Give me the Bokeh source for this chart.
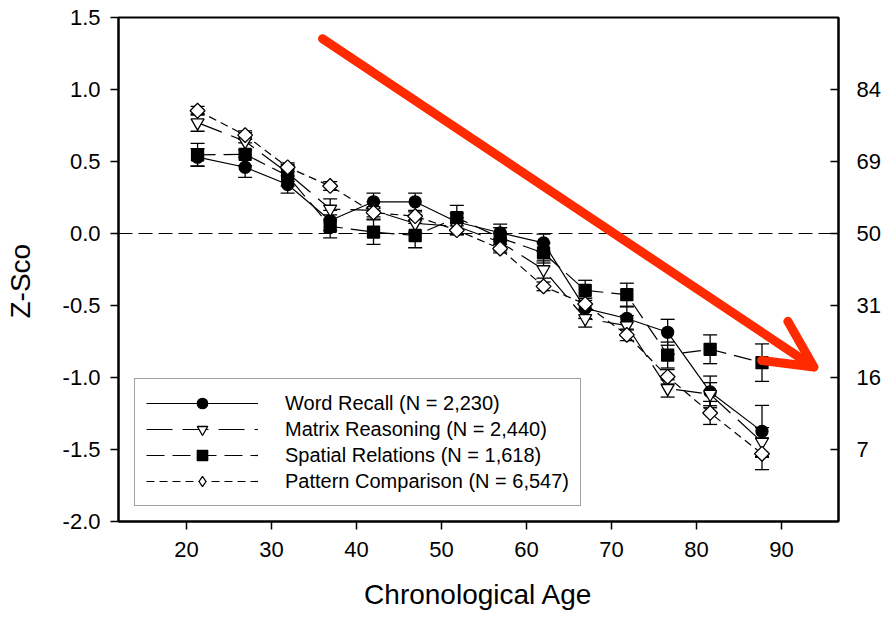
import numpy as np
from bokeh.plotting import figure
from bokeh.models import (Range1d, LinearAxis, FixedTicker, ColumnDataSource, Whisker,
                          TeeHead, Span, Arrow, OpenHead, LegendItem, Legend)
from bokeh.embed import file_html
from bokeh.resources import INLINE

# ---------------- data ----------------
ages = [21.3, 26.9, 31.9, 36.9, 42.0, 46.9, 51.8, 56.9, 62.0, 66.9, 71.8, 76.6, 81.6, 87.7]

word_recall = [0.53, 0.46, 0.34, 0.09, 0.22, 0.22, 0.08, 0.005, -0.065, -0.52, -0.59, -0.686, -1.10, -1.374]
word_recall_err = [0.06, 0.07, 0.06, 0.07, 0.06, 0.06, 0.06, 0.06, 0.06, 0.07, 0.08, 0.09, 0.11, 0.18]

matrix_reasoning = [0.77, 0.64, 0.42, 0.17, 0.16, 0.07, 0.05, -0.06, -0.25, -0.59, -0.64, -1.076, -1.116, -1.448]
matrix_reasoning_err = [0.06, 0.06, 0.06, 0.07, 0.06, 0.06, 0.06, 0.06, 0.06, 0.06, 0.07, 0.06, 0.08, 0.10]

spatial_relations = [0.546, 0.55, 0.40, 0.05, 0.01, -0.014, 0.11, -0.03, -0.135, -0.395, -0.425, -0.844, -0.804, -0.897]
spatial_relations_err = [0.08, 0.08, 0.07, 0.08, 0.085, 0.085, 0.085, 0.07, 0.07, 0.07, 0.08, 0.09, 0.10, 0.13]

pattern_comparison = [0.853, 0.683, 0.46, 0.33, 0.145, 0.12, 0.023, -0.105, -0.367, -0.49, -0.704, -0.995, -1.246, -1.53]
pattern_comparison_err = [0.03, 0.03, 0.03, 0.03, 0.03, 0.03, 0.03, 0.03, 0.03, 0.04, 0.04, 0.05, 0.08, 0.11]

series_labels = ["Word Recall (N = 2,230)", "Matrix Reasoning (N = 2,440)",
                 "Spatial Relations (N = 1,618)", "Pattern Comparison (N = 6,547)"]

x_ticks = [20, 30, 40, 50, 60, 70, 80, 90]
y_ticks = [1.5, 1.0, 0.5, 0.0, -0.5, -1.0, -1.5, -2.0]
y_tick_labels = ["1.5", "1.0", "0.5", "0.0", "-0.5", "-1.0", "-1.5", "-2.0"]
pct_ticks = [1.0, 0.5, 0.0, -0.5, -1.0, -1.5]
pct_labels = ["84", "69", "50", "31", "16", "7"]

x_label = "Chronological Age"
y_label = "Z-Sco\u00a0\u00a0\u00a0"   # the rest of "Z-Score" is hidden in the original

arrow_x = [36.0, 93.8]
arrow_y = [1.353, -0.927]

# ---------------- figure ----------------
FONT = "Liberation Sans"

p = figure(width=887, height=619,
           x_range=Range1d(12, 96.7), y_range=Range1d(-2.0, 1.5),
           output_backend="svg", toolbar_location=None,
           min_border_left=118, min_border_right=49,
           min_border_top=17, min_border_bottom=98)
p.background_fill_color = "white"
p.border_fill_color = "white"
p.outline_line_color = "black"
p.outline_line_width = 2
p.xgrid.visible = False
p.ygrid.visible = False

def style_axis(ax):
    ax.major_label_text_font = FONT
    ax.major_label_text_font_size = "22px"
    ax.major_label_text_color = "black"
    ax.axis_label_text_font = FONT
    ax.axis_label_text_font_size = "28px"
    ax.axis_label_text_font_style = "normal"
    ax.axis_label_text_color = "black"
    ax.minor_tick_out = 0
    ax.minor_tick_in = 0
    ax.axis_line_width = 2
    ax.axis_line_color = "black"
    ax.major_tick_line_width = 1.5
    ax.major_tick_line_color = "black"

# x axis
xa = p.xaxis[0]
style_axis(xa)
xa.ticker = FixedTicker(ticks=x_ticks)
xa.axis_label = x_label
xa.axis_label_standoff = 19
xa.major_label_standoff = 12
xa.major_tick_out = 8
xa.major_tick_in = 0

# left y axis
ya = p.yaxis[0]
style_axis(ya)
ya.ticker = FixedTicker(ticks=y_ticks)
ya.major_label_overrides = dict(zip(y_ticks, y_tick_labels))
ya.axis_label = y_label
ya.axis_label_standoff = 24
ya.major_label_standoff = 10
ya.major_tick_out = 8
ya.major_tick_in = 0

# right percentile axis
ra = LinearAxis(ticker=FixedTicker(ticks=pct_ticks))
style_axis(ra)
ra.major_label_overrides = dict(zip(pct_ticks, pct_labels))
ra.major_label_standoff = 18
ra.major_tick_out = 0
ra.major_tick_in = 8
p.add_layout(ra, "right")

# zero reference line
p.add_layout(Span(location=0, dimension="width", line_color="black",
                  line_width=1, line_dash="14 6", level="underlay"))

series = [
    (word_recall, word_recall_err, "solid", "circle", 12, "black", 0),
    (matrix_reasoning, matrix_reasoning_err, "26 10", "inverted_triangle", 13, "white", 0),
    (spatial_relations, spatial_relations_err, "18 8", "square", 12, "black", 0),
    (pattern_comparison, pattern_comparison_err, "8 5", "square", 10.5, "white", np.pi / 4),
]

# error bars
for vals, errs, dash, marker, size, fill, ang in series:
    src = ColumnDataSource(dict(x=ages,
                                upper=[v + e for v, e in zip(vals, errs)],
                                lower=[v - e for v, e in zip(vals, errs)]))
    p.add_layout(Whisker(source=src, base="x", upper="upper", lower="lower",
                         dimension="height", line_color="black", line_width=1.3,
                         upper_head=TeeHead(size=14, line_width=1.3, line_color="black"),
                         lower_head=TeeHead(size=14, line_width=1.3, line_color="black"),
                         level="underlay"))

# lines
line_rs = []
for vals, errs, dash, marker, size, fill, ang in series:
    line_rs.append(p.line(ages, vals, line_color="black", line_width=1.2, line_dash=dash))

# markers
mark_rs = []
for vals, errs, dash, marker, size, fill, ang in series:
    mark_rs.append(p.scatter(ages, vals, marker=marker, size=size, angle=ang, fill_color=fill,
                             line_color="black", line_width=1.3))

# legend-only marker for the diamond (legend glyphs are drawn unrotated)
legend_diamond = p.scatter([np.nan], [np.nan], marker="diamond", size=16, fill_color="white",
                           line_color="black", line_width=1.3)
legend_marks = [mark_rs[0], mark_rs[1], mark_rs[2], legend_diamond]

# red arrow
p.add_layout(Arrow(x_start=arrow_x[0], y_start=arrow_y[0], x_end=arrow_x[1], y_end=arrow_y[1],
                   line_color="#ff2a00", line_width=9, line_cap="round",
                   end=OpenHead(size=47, line_color="#ff2a00", line_width=9,
                                line_cap="round", line_join="round")))

# legend
items = [LegendItem(label=lab, renderers=[lr, mr])
         for lab, lr, mr in zip(series_labels, line_rs, legend_marks)]
lg = Legend(items=items, location=(16, 15), margin=0, padding=11, spacing=0,
            glyph_width=112, glyph_height=26, label_height=26, label_standoff=27,
            label_text_font=FONT, label_text_font_size="20px", label_text_color="black",
            border_line_color="#444444", border_line_width=1,
            background_fill_color="white", background_fill_alpha=1.0)
p.add_layout(lg, "center")

open("out.html", "w").write(file_html(p, INLINE))
